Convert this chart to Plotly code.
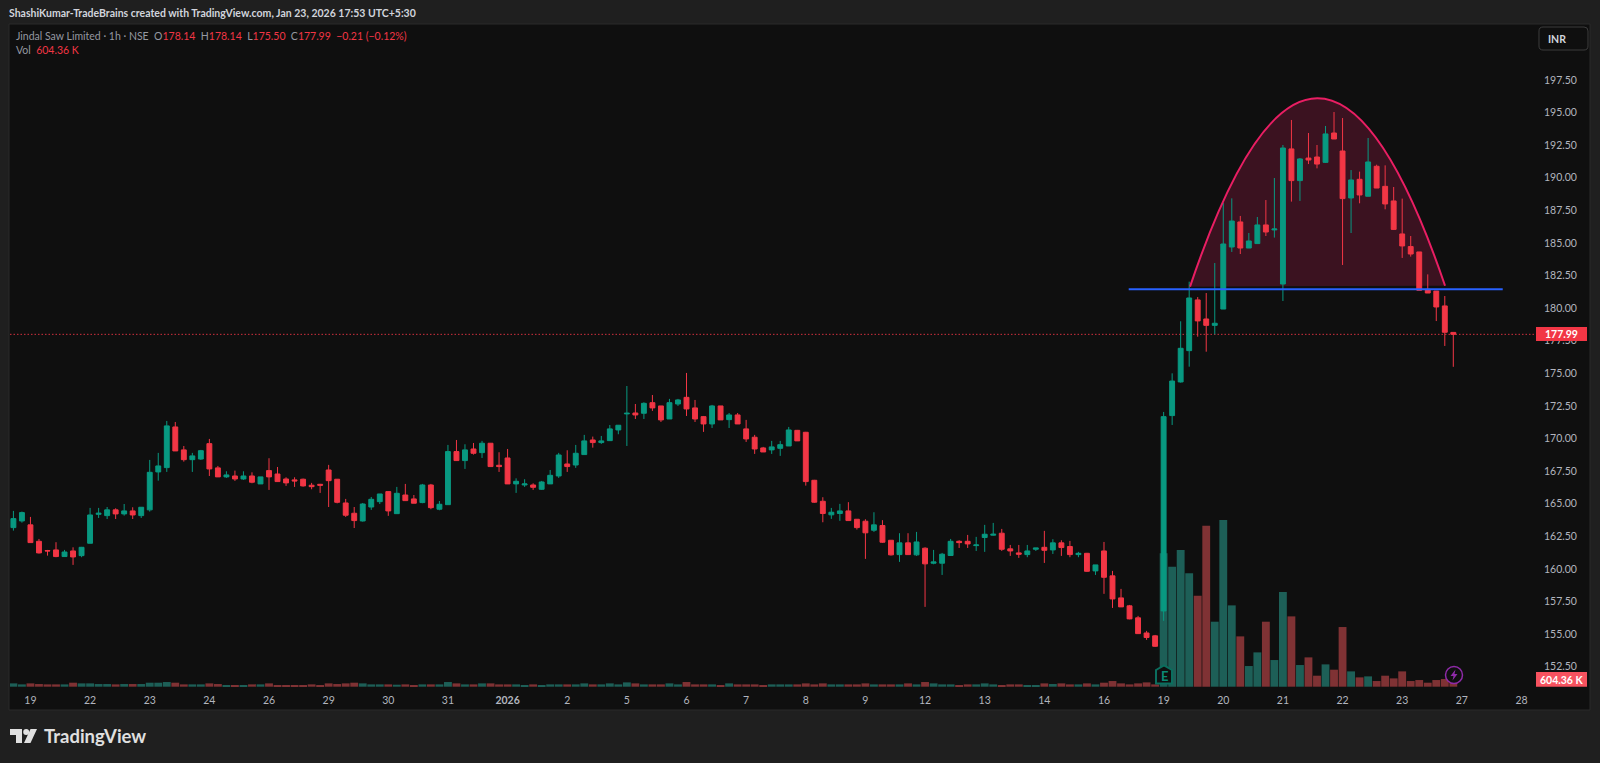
import plotly.graph_objects as go

tick_labels = ["19","22","23","24","26","29","30","31","<b>2026</b>","2","5","6","7","8","9","12","13","14","16","19","20","21","22","23","27","28"]
opens = [163.17,163.68,163.38,162.12,161.41,161.46,160.95,161.38,161.02,161.97,164.19,164.09,164.53,164.22,164.45,164.09,164.53,167.44,167.77,170.89,
169.13,168.38,168.43,169.61,167.75,167.06,167.13,166.90,167.13,166.52,167.54,167.28,166.90,166.83,166.88,166.42,166.49,167.59,166.88,165.06,
164.27,163.68,164.75,165.16,165.93,164.24,165.67,165.37,165.09,166.44,164.58,164.93,169.00,168.31,169.20,168.92,169.64,167.95,168.51,166.52,
166.44,166.44,166.11,166.52,167.13,168.05,167.97,168.77,169.89,169.69,169.84,170.66,171.89,171.96,171.94,172.75,172.50,171.50,172.65,173.16,
172.35,171.68,171.12,172.50,171.45,171.81,170.74,170.10,169.28,169.13,169.25,169.43,170.63,170.48,166.80,165.19,164.15,164.25,164.45,163.81,
163.66,162.97,163.33,162.20,161.10,162.00,161.08,161.59,160.44,160.44,161.03,162.12,162.12,161.79,162.41,162.59,162.74,161.54,161.23,161.10,
161.51,161.66,161.46,162.00,161.72,161.10,161.20,159.85,161.38,159.47,157.78,157.17,156.25,155.09,154.87,156.78,171.76,174.34,176.74,180.63,
179.17,178.68,179.93,184.69,186.61,184.61,184.95,186.38,186.00,181.85,192.21,189.78,191.51,191.59,191.18,193.43,192.05,188.45,189.88,188.58,
190.88,189.34,188.22,185.69,184.72,184.31,181.44,181.31,180.17,178.14]
highs = [164.45,164.40,163.99,162.30,161.46,162.05,161.46,161.66,161.69,164.68,164.68,164.75,164.65,164.98,164.73,164.75,168.36,168.90,171.35,171.27,
169.43,168.90,169.13,169.97,167.90,167.49,167.54,167.49,167.41,167.06,168.49,167.82,167.03,167.03,166.93,166.60,166.52,167.98,166.90,165.37,
164.75,165.06,165.52,165.75,165.96,166.29,166.52,165.67,166.52,166.52,165.21,169.51,169.89,169.56,169.66,169.82,169.66,168.95,169.20,166.95,
166.88,166.57,166.75,167.59,168.90,169.10,169.51,170.28,170.15,170.20,171.04,171.04,174.03,172.65,172.78,173.34,172.50,173.04,173.04,175.03,
172.96,171.73,172.58,172.50,171.96,171.96,171.43,170.28,169.36,169.82,169.82,170.89,170.66,170.51,166.83,165.50,164.68,164.99,165.12,163.81,
163.81,164.35,163.74,162.20,162.74,162.74,162.84,161.66,161.46,161.23,162.30,162.20,162.61,162.46,163.38,163.53,163.07,161.84,161.84,161.84,
161.61,162.92,162.28,162.20,162.15,161.31,161.23,160.31,162.07,159.85,158.47,157.24,156.40,155.25,154.94,172.04,175.00,178.99,182.03,180.85,
181.16,183.46,188.06,188.42,187.07,185.76,186.99,188.29,189.98,192.51,194.43,191.51,193.43,192.51,193.97,195.04,194.58,190.59,190.47,193.05,
191.00,190.95,189.29,188.40,185.53,184.31,182.59,181.31,180.93,178.14]
lows = [162.94,163.55,162.02,161.18,161.02,160.90,160.95,160.31,160.90,161.97,163.91,163.83,163.83,164.09,163.83,163.91,164.40,166.77,167.44,169.05,
168.23,167.44,168.36,167.13,167.06,166.98,166.75,166.83,166.57,166.52,166.06,166.67,166.37,166.29,166.31,166.11,165.83,164.75,165.03,163.99,
163.14,163.63,164.53,164.98,164.07,164.24,165.21,165.04,165.04,164.58,164.50,164.91,168.28,167.67,168.77,168.51,167.85,167.44,166.52,165.83,
166.29,166.06,166.06,166.52,166.98,167.44,167.75,168.74,169.30,169.59,169.82,170.33,169.43,171.50,171.50,172.12,171.27,171.50,172.50,171.73,
171.27,170.51,170.81,171.43,170.81,171.12,169.74,168.82,168.97,168.82,168.67,169.43,169.82,166.39,165.07,163.58,163.84,163.69,163.71,163.02,
160.77,162.84,162.00,161.03,160.54,161.10,161.00,157.09,160.36,159.54,161.00,161.61,161.61,161.38,161.31,162.56,161.38,161.00,160.85,160.90,
161.38,160.46,161.15,161.00,160.90,160.90,159.77,159.54,158.09,157.01,157.09,156.14,155.02,154.56,154.02,156.02,171.04,174.29,175.51,177.81,
176.66,177.99,179.93,184.31,184.15,184.61,184.95,185.53,185.41,180.55,188.17,188.22,191.05,190.72,191.13,192.97,183.31,185.76,188.04,188.58,
189.21,187.58,185.99,183.85,183.95,181.37,181.16,179.01,177.10,175.50]
closes = [163.86,164.32,162.02,161.23,161.38,160.95,161.30,160.92,161.66,164.14,164.27,164.53,164.22,164.45,164.14,164.73,167.41,167.90,170.97,169.05,
168.38,168.67,169.07,167.67,167.06,167.21,166.90,167.13,166.65,167.06,167.06,166.70,166.60,166.75,166.37,166.31,166.42,166.77,165.11,164.12,
163.71,164.98,165.34,165.75,164.45,165.80,165.24,165.04,166.44,164.70,164.96,169.00,168.31,169.13,168.87,169.64,167.85,167.85,166.52,166.72,
166.52,166.26,166.67,167.18,168.74,167.85,168.87,169.82,169.69,169.82,170.74,171.02,171.94,171.81,172.70,172.35,171.43,172.75,172.96,172.27,
171.50,171.12,172.50,171.43,171.81,171.12,169.97,169.20,168.97,169.36,169.53,170.66,169.82,166.70,165.12,164.25,164.35,164.45,163.71,163.17,
162.77,163.38,162.05,161.08,162.00,161.10,162.07,160.39,160.54,161.13,162.12,162.02,161.92,161.84,162.66,162.66,161.51,161.38,161.13,161.38,
161.61,161.43,162.00,161.64,161.10,161.20,159.82,160.31,159.36,157.70,157.09,156.17,155.04,154.74,154.07,171.68,174.41,176.92,180.78,179.02,
178.68,178.84,184.92,186.68,184.61,185.15,186.38,185.84,186.07,192.28,189.78,191.44,191.36,191.05,193.36,192.97,188.40,189.83,188.68,191.21,
189.21,187.99,186.04,184.77,184.15,181.37,181.16,180.09,178.15,177.99]
volumes_k = [300,210,300,240,210,210,210,360,300,300,240,240,210,240,240,240,360,360,420,360,
210,210,210,300,240,150,150,150,210,210,300,150,120,120,150,210,150,300,240,300,
360,300,210,210,210,180,210,150,210,210,210,420,300,210,210,300,300,210,210,210,
150,210,150,210,210,210,210,300,210,210,300,210,390,300,210,210,210,300,210,420,
210,210,210,150,300,210,210,210,150,210,210,210,210,300,210,300,210,210,210,210,
300,210,210,210,210,300,210,420,300,210,210,150,210,210,300,210,150,210,210,150,
150,300,240,300,210,210,300,210,360,510,300,210,300,390,210,12000,10800,12300,10200,8190,
14490,5850,15000,7320,4530,1860,3090,5850,2400,8520,6330,1950,2640,990,2010,1530,5370,1380,840,930,
510,990,750,1380,510,600,360,600,690,604.36]

W, H = 1600, 763
L, R, T, B = 10, 1534, 24, 688
GREEN, RED = "#089981", "#f23645"
TXT = "#b2b5be"
FONT = "Lato"
SIZE = 10.5
x = list(range(len(closes)))
vol_colors = ["#1d5f57" if c >= o else "#7f3234" for o, c in zip(opens, closes)]

def px(v): return (v - L) / (R - L)
def py(v): return 1 - (v - T) / (B - T)

fig = go.Figure()
fig.add_trace(go.Bar(x=x, y=volumes_k, marker=dict(color=vol_colors, line_width=0), yaxis="y", hoverinfo="skip"))
fig.add_trace(go.Candlestick(x=x, open=opens, high=highs, low=lows, close=closes, yaxis="y2", whiskerwidth=0,
    increasing=dict(line=dict(color=GREEN, width=1), fillcolor=GREEN),
    decreasing=dict(line=dict(color=RED, width=1), fillcolor=RED)))

shapes = [
    dict(type="rect", xref="paper", yref="paper", x0=px(9), x1=px(1590), y0=py(24), y1=py(710),
         fillcolor="#0f0f0f", line=dict(color="#2a2a2a", width=1), layer="below"),
    dict(type="path", xref="x", yref="y2", path="M 138.1 181.65 Q 153 210.5 168.03 181.72 Z",
         fillcolor="rgba(233,30,99,0.2)", line=dict(width=0), layer="below"),
    dict(type="path", xref="x", yref="y2", path="M 138.1 181.65 Q 153 210.5 168.03 181.72",
         line=dict(color="#e91e63", width=2), layer="above"),
    dict(type="line", xref="x", yref="y2", x0=130.9, x1=174.8, y0=181.44, y1=181.44,
         line=dict(color="#2962ff", width=2), layer="above"),
    dict(type="line", xref="paper", yref="y2", x0=0, x1=1, y0=closes[-1], y1=closes[-1],
         line=dict(color="rgba(242,54,69,0.85)", width=1, dash="1.5px,2px"), layer="below"),
    dict(type="rect", xref="paper", yref="paper", x0=px(1536), x1=px(1587), y0=py(327), y1=py(341),
         fillcolor=RED, line_width=0, layer="above"),
    dict(type="rect", xref="paper", yref="paper", x0=px(1536), x1=px(1587), y0=py(672), y1=py(686.7),
         fillcolor="#f7525f", line_width=0, layer="above"),
]

def poly(points, fill, line=None, width=1):
    p = "M " + " L ".join(f"{px(a):.5f} {py(b):.5f}" for a, b in points) + " Z"
    shapes.append(dict(type="path", xref="paper", yref="paper", path=p, fillcolor=fill,
                       line=dict(color=line or fill, width=width if line else 0), layer="above"))

def rrect(x0, y0, x1, y1, r, line):
    p = (f"M {px(x0+r):.5f} {py(y0):.5f} L {px(x1-r):.5f} {py(y0):.5f} Q {px(x1):.5f} {py(y0):.5f} {px(x1):.5f} {py(y0+r):.5f} "
         f"L {px(x1):.5f} {py(y1-r):.5f} Q {px(x1):.5f} {py(y1):.5f} {px(x1-r):.5f} {py(y1):.5f} "
         f"L {px(x0+r):.5f} {py(y1):.5f} Q {px(x0):.5f} {py(y1):.5f} {px(x0):.5f} {py(y1-r):.5f} "
         f"L {px(x0):.5f} {py(y0+r):.5f} Q {px(x0):.5f} {py(y0):.5f} {px(x0+r):.5f} {py(y0):.5f} Z")
    shapes.append(dict(type="path", xref="paper", yref="paper", path=p, line=dict(color=line, width=1), layer="above"))
rrect(1539, 27, 1588, 50, 4, "#3d3d3d")

poly([(1156, 670), (1164, 665.5), (1172, 670), (1172, 683.5), (1156, 683.5)], "#0f0f0f", "#0b6e5e", 2)
shapes.append(dict(type="circle", xref="paper", yref="paper", x0=px(1445.5), x1=px(1462.5), y0=py(666.5), y1=py(683.5),
                   fillcolor="#0f0f0f", line=dict(color="#8e2aa8", width=1.5), layer="above"))
poly([(1455.5, 669.5), (1450.5, 676), (1453.5, 676), (1452.5, 680.5), (1457.5, 674), (1454.5, 674)], "#8e2aa8")
poly([(10, 729), (22, 729), (22, 743), (16, 743), (16, 735), (10, 735)], "#e0e0e0")
poly([(37, 729), (30.5, 743), (24, 743), (30.5, 729)], "#e0e0e0")
shapes.append(dict(type="circle", xref="paper", yref="paper", x0=px(23.2), x1=px(29.2), y0=py(729), y1=py(735),
                   fillcolor="#e0e0e0", line_width=0, layer="above"))

def note(text, xp, yp, size=SIZE, color=TXT, anchor="left", bold=False, family=FONT):
    if bold:
        text = f"<b>{text}</b>"
    return dict(text=text, xref="paper", yref="paper", x=px(xp), y=py(yp), xanchor=anchor, yanchor="middle",
                showarrow=False, font=dict(family=family, size=size, color=color), borderpad=0)

r = lambda s: f'<span style="color:{RED}">{s}</span>'
annotations = [
    note("ShashiKumar-TradeBrains created with TradingView.com, Jan 23, 2026 17:53 UTC+5:30", 8, 13, 10.5, "#d1d4dc", bold=True),
    note("Jindal Saw Limited · 1h · NSE  O" + r("178.14") + "  H" + r("178.14") + "  L" + r("175.50") + "  C" + r("177.99") + "  " + r("−0.21 (−0.12%)"), 15, 36, SIZE, "#9598a1"),
    note("Vol  " + r("604.36 K"), 15, 50.5, SIZE, "#9598a1"),
    note("INR", 1547, 38.5, SIZE, "#d1d4dc", bold=True),
    note("177.99", 1561.5, 334, SIZE, "#ffffff", "center", True),
    note("604.36 K", 1561.5, 679.5, SIZE, "#ffffff", "center", True),
    note("E", 1164, 676, 13, "#0b8a75", "center", True),
    note("TradingView", 43, 736, 18.5, "#e0e0e0", "left", True),
]

fig.update_layout(
    width=W, height=H, autosize=False,
    margin=dict(l=L, r=W - R, t=T, b=H - B, pad=0),
    paper_bgcolor="#1f1f1f", plot_bgcolor="rgba(0,0,0,0)",
    showlegend=False, boxgap=0.18, bargap=0.08,
    font=dict(family=FONT, size=SIZE, color=TXT),
    shapes=shapes, annotations=annotations,
    xaxis=dict(range=[-0.4, 178.47], rangeslider_visible=False, showgrid=False, zeroline=False, showline=False,
               tickvals=[2 + 7 * k for k in range(len(tick_labels))], ticktext=tick_labels, ticks="", ticklabelstandoff=4,
               tickfont=dict(family=FONT, size=SIZE, color=TXT), tickangle=0),
    yaxis=dict(range=[-117, 59643], visible=False, fixedrange=True),
    yaxis2=dict(range=[150.87, 201.79], overlaying="y", side="right", showgrid=False, zeroline=False, showline=False,
                tickvals=[152.5 + 2.5 * k for k in range(19)], tickformat=".2f", ticks="", ticklabelstandoff=9,
                tickfont=dict(family=FONT, size=SIZE, color=TXT)),
)

fig.write_html("out.html", config={"displayModeBar": False},
               post_script="document.body.style.margin='0';document.body.style.background='#1f1f1f';document.body.style.overflow='hidden';")
